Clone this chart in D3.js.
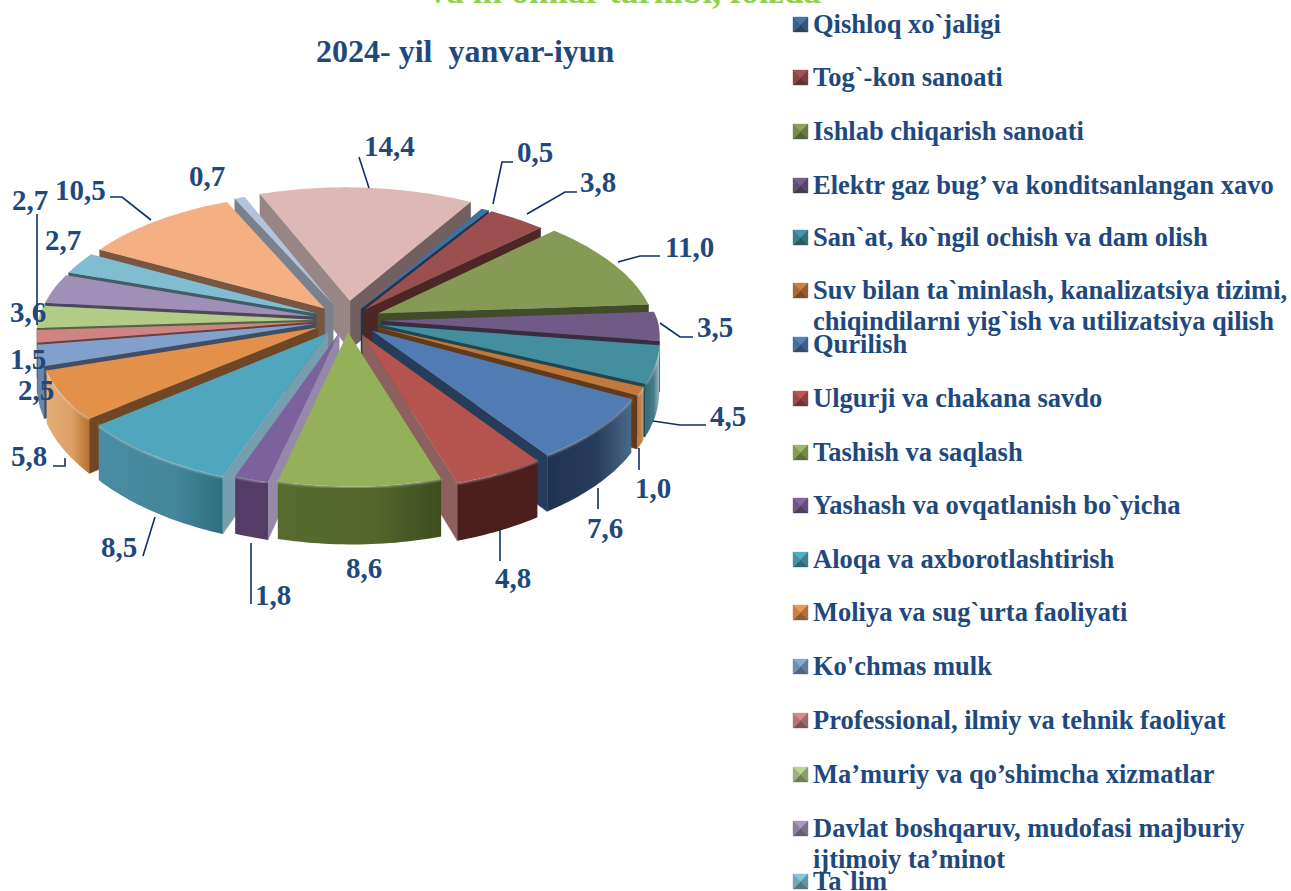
<!DOCTYPE html>
<html><head><meta charset="utf-8">
<script src="https://cdn.jsdelivr.net/npm/d3@7/dist/d3.min.js"></script>
<style>html,body{margin:0;padding:0;background:#fff;overflow:hidden}svg{display:block}
text{font-family:"Liberation Serif","Times New Roman",serif;font-weight:bold}</style>
</head><body><svg id="c" width="1291" height="891"></svg>
<script>
// ---- data ----
const categories = [
 ["Qishloq xo`jaligi"],["Tog`-kon sanoati"],["Ishlab chiqarish sanoati"],
 ["Elektr gaz bug’ va konditsanlangan xavo"],["San`at, ko`ngil ochish va dam olish"],
 ["Suv bilan ta`minlash, kanalizatsiya tizimi,","chiqindilarni yig`ish va utilizatsiya qilish"],
 ["Qurilish"],["Ulgurji va chakana savdo"],["Tashish va saqlash"],
 ["Yashash va ovqatlanish bo`yicha"],["Aloqa va axborotlashtirish"],["Moliya va sug`urta faoliyati"],
 ["Ko'chmas mulk"],["Professional, ilmiy va tehnik faoliyat"],["Ma’muriy va qo’shimcha xizmatlar"],
 ["Davlat boshqaruv, mudofasi majburiy","ijtimoiy ta’minot"],["Ta`lim"]];
const values = [0.5,3.8,11.0,3.5,4.5,1.0,7.6,4.8,8.6,1.8,8.5,5.8,2.5,1.5,2.7,3.6,2.7,10.5,0.7,14.4];
const valueLabels = values.map(v=>v.toFixed(1).replace(".",","));
const titleText = "2024- yil  yanvar-iyun";
const clippedTitle = "va in'omlar tarkibi, foizda";
// ---- styles / layout ----
const topColors = ["#40709f","#9b4f4e","#859b55","#705a86","#438e9f","#c2783a","#507bb3","#b5534f","#94b059","#7d619c","#4fa6be","#e3914a","#81a0cc","#cd8482","#b2cb87","#a08fb6","#80bdd1","#f4af82","#b3c3dc","#ddb8b7"];
const rimLeft  = ["#2c4c70","#5a2a2a","#4a5a28","#4a3a60","#2f6a7a","#b87a48","#20324f","#4a1f1e","#586b2e","#533d66","#4a8ca2","#e5ac74","#6a86ad","#a56a68","#8fa86a","#83749b","#6a9bac","#c98e68","#8f9cb0","#a89290"],
      rimRight = ["#2c4c70","#5a2a2a","#4a5a28","#3a2c4a","#9fb8c0","#c8a078","#4a6a8a","#4a1f1e","#3f4d20","#533d66","#2f6f80","#b57030","#6a86ad","#a56a68","#8fa86a","#83749b","#6a9bac","#c98e68","#8f9cb0","#a89290"];
const explode = [.10,.10,.125,.125,.125,.125,.12,.125,.09,.10,.12,.12,.12,.12,.12,.12,.12,.12,.13,.15];
const labelPos = [[517,162],[580,192],[665,257],[697,337],[710,426],[635,498],[587,538],[495,588],[346,578],[255,605],[101,557],[11,466],[18,400],[10,369],[12,210],[10,322],[45,250],[55,200],[189,186],[364,156]];
const leaders = [[[513,162],[502,162],[493,204]],[[577,192],[565,192],[527,214]],[[660,256],[640,256],[618,262]],[[693,337],[680,337],[660,323]],[[706,425],[680,425],[653,421]],[[639,448],[639,470]],[[598,488],[598,509]],[[500,530],[500,561]],[],[[251,543],[251,604]],[[155,517],[143,556]],[[53,466],[65,466],[65,458]],[],[],[[37,214],[37,325]],[],[],[[110,197],[122,197],[151,220]],[],[[359,157],[369,188]]];
const svg=d3.select("#c");
const defs=svg.append("defs");
defs.append("filter").attr("id","soft").append("feGaussianBlur").attr("stdDeviation",1.1);
const navy="#1f497d";

svg.append("text").text(clippedTitle).attr("x",625).attr("y",3).attr("text-anchor","middle")
  .attr("font-size",35).attr("fill","#92d050");
svg.append("text").text(titleText).attr("x",316).attr("y",62).attr("font-size",32).attr("fill",navy).style("white-space","pre");

// ---- projection of the pie plane ----
const DIST=8, HEIGHT=50;
const xS=d3.scaleLinear().domain([-1,1]).range([347-276,347+276]);
const yS=d3.scaleLinear().domain([-1,1]).range([320-132,320+132]);
const proj=(X,Y,z=0)=>{
  const s=DIST/(DIST-Y), sx=DIST/(DIST-(Y<0?1.1:.75)*Y);
  return [xS(X*sx+Y*.016),yS(Y*s)+z*s];
};
const dir=a=>[Math.sin(a),Math.cos(a)*-1];   // x right, Y toward the viewer
const mix=(a,b,t)=>d3.interpolateRgb(a,b)(t);
const line=d3.line();

const startAngle=31*Math.PI/180;
const arcs=d3.pie().sort(null).startAngle(startAngle).endAngle(startAngle+2*Math.PI)(values);
const color=d3.scaleOrdinal().domain(d3.range(values.length)).range(topColors);

const slices=arcs.map((d,i)=>{
  const mid=(d.startAngle+d.endAngle)/2, m=dir(mid), e=explode[i];
  const o=[m[0]*e,m[1]*e];
  return {i,d,mid,o,depth:o[1]+0.62*m[1]};
}).sort((a,b)=>a.depth-b.depth);

function wall(s,ang,sign,g){ // radial wall at ang, normal direction by sign
  const u=dir(ang), n=[sign*Math.cos(ang),sign*Math.sin(ang)];
  const P=[s.o[0]+u[0]*.5,s.o[1]+u[1]*.5];
  const facing=n[0]*(0-P[0])+n[1]*(DIST-P[1]);
  if(facing<=0)return;
  const base=color(s.i);
  const t=Math.max(0,Math.min(1,(n[1]-.33)/.2));
  const side=mix(base,n[0]>0?"#a8a8b4":"#6a6a6a",.55);
  const dark=d3.rgb(base).darker(2).formatHex();
  const c=mix(side,dark,t);
  const A=s.o,B=[s.o[0]+u[0],s.o[1]+u[1]];
  g.append("path").attr("d",line([proj(A[0],A[1]),proj(B[0],B[1]),proj(B[0],B[1],HEIGHT),proj(A[0],A[1],HEIGHT)])+"Z")
   .attr("fill",c).attr("stroke",c).attr("stroke-width",.5);
}

const gp=svg.append("g");
slices.forEach(s=>{
  const g=gp.append("g"),{d,o,i}=s;
  wall(s,d.endAngle,1,g);
  wall(s,d.startAngle,-1,g);
  const n=Math.max(4,Math.ceil((d.endAngle-d.startAngle)/0.02));
  const samples=d3.range(n+1).map(k=>d.startAngle+(d.endAngle-d.startAngle)*k/n);
  const rimPts=samples.map(a=>{const u=dir(a);return [o[0]+u[0],o[1]+u[1]];});
  const vis=samples.filter(a=>{const u=dir(a);return u[0]*(0-o[0]-u[0])+u[1]*(DIST-o[1]-u[1])>0;});
  if(vis.length>1){
    const pts=vis.map(a=>{const u=dir(a);return [o[0]+u[0],o[1]+u[1]];});
    const id="rim"+i;
    const lg=defs.append("linearGradient").attr("id",id);
    lg.append("stop").attr("offset",0).attr("stop-color",rimLeft[i]);
    lg.append("stop").attr("offset",.6).attr("stop-color",mix(rimLeft[i],rimRight[i],.2));
    lg.append("stop").attr("offset",1).attr("stop-color",rimRight[i]);
    const up=pts.map(p=>proj(p[0],p[1])), lo=pts.slice().reverse().map(p=>proj(p[0],p[1],HEIGHT));
    g.append("path").attr("d",line(up.concat(lo))+"Z").attr("fill",`url(#${id})`);
    g.append("path").attr("d",line(up)).attr("fill","none").attr("stroke","#fff").attr("stroke-opacity",.45)
      .attr("stroke-width",2.5).attr("filter","url(#soft)");
  }
  const topPts=[proj(o[0],o[1])].concat(rimPts.map(p=>proj(p[0],p[1])));
  g.append("path").attr("d",line(topPts)+"Z").attr("fill",color(i));
});

// ---- value labels and leaders ----
svg.append("g").selectAll("path").data(leaders.filter(l=>l.length)).join("path")
  .attr("d",l=>line(l)).attr("fill","none").attr("stroke","#0f2f6b").attr("stroke-width",1.6);
svg.append("g").selectAll("text").data(valueLabels).join("text")
  .text(d=>d).attr("x",(d,i)=>labelPos[i][0]).attr("y",(d,i)=>labelPos[i][1])
  .attr("font-size",29).attr("fill",navy);

// ---- legend ----
const legendY=[33,86,140,194,246,299,353,407,461,514,568,621,675,729,783,837,890];
const lg=svg.append("g");
categories.forEach((c,i)=>{
  const y=legendY[i], x0=793, sz=15, top=y-16, col=color(i);
  const cx=x0+sz/2, cy=top+sz/2, corners=[[x0,top],[x0+sz,top],[x0+sz,top+sz],[x0,top+sz]];
  const shades=[d3.rgb(col).brighter(.15).formatHex(),d3.rgb(col).darker(.7).formatHex(),d3.rgb(col).darker(1.3).formatHex(),d3.rgb(col).darker(.35).formatHex()];
  corners.forEach((p,k)=>{const q=corners[(k+1)%4];
    lg.append("path").attr("d",line([p,q,[cx,cy]])+"Z").attr("fill",shades[k]).attr("stroke",shades[k]).attr("stroke-width",.4);});
  c.forEach((t,k)=>lg.append("text").text(t).attr("x",813).attr("y",y+k*31).attr("font-size",26.5).attr("fill",navy));
});
</script></body></html>
